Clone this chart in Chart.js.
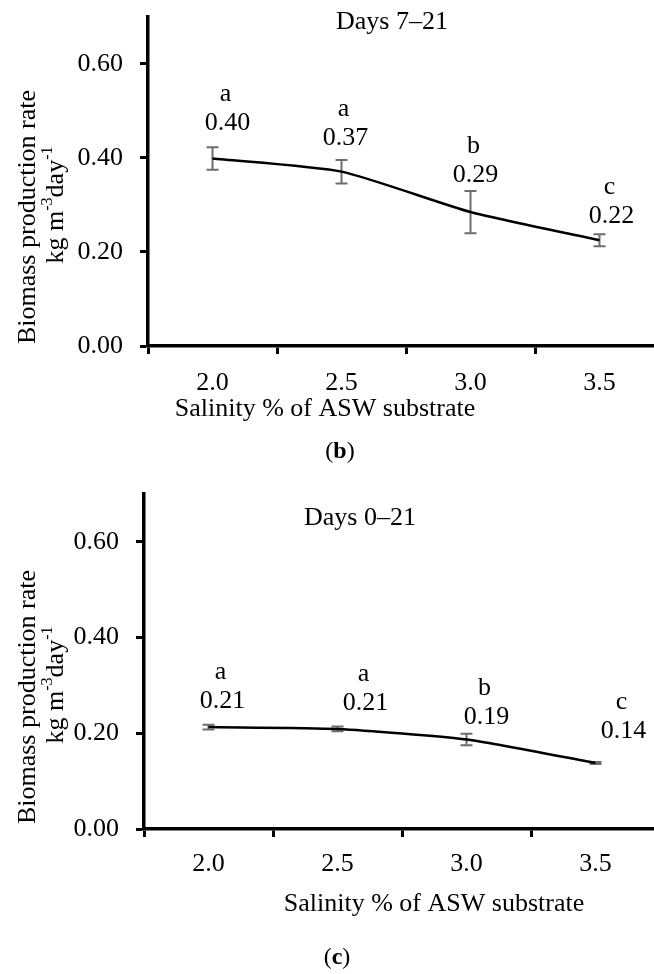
<!DOCTYPE html>
<html>
<head>
<meta charset="utf-8">
<script src="https://cdn.jsdelivr.net/npm/chart.js@4.4.1/dist/chart.umd.min.js"></script>
<style>
  html, body { margin: 0; padding: 0; background: #fff; overflow: hidden; width: 654px; height: 974px; }
  .box { position: absolute; left: 0; width: 680px; }
</style>
</head>
<body>
<div class="box" style="top:0;height:470px"><canvas id="chartB"></canvas></div>
<div class="box" style="top:480px;height:494px"><canvas id="chartC"></canvas></div>
<script>
// salinity levels (x axis)
const salinity = ['2.0', '2.5', '3.0', '3.5'];
const yTicks = [0, 0.2, 0.4, 0.6];

// (b) days 7-21
const rateB    = [0.399, 0.371, 0.285, 0.225];
const errB     = [0.024, 0.025, 0.045, 0.013];
const lettersB = ['a', 'a', 'b', 'c'];
const labelsB  = ['0.40', '0.37', '0.29', '0.22'];

// (c) days 0-21
const rateC    = [0.213, 0.209, 0.187, 0.138];
const errC     = [0.005, 0.005, 0.012, 0.002];
const lettersC = ['a', 'a', 'b', 'c'];
const labelsC  = ['0.21', '0.21', '0.19', '0.14'];

const FONT = '"Liberation Serif", "Times New Roman", serif';

function makeChart(id, o) {
    const annot = {
        id: 'annot_' + id,
        beforeDatasetsDraw(chart) {
            const ctx = chart.ctx, x = chart.scales.x, y = chart.scales.y;
            ctx.save();
            ctx.strokeStyle = '#6e6e6e';
            ctx.lineWidth = 2;
            o.values.forEach((v, i) => {
                const px = x.getPixelForValue(i);
                const top = y.getPixelForValue(v + o.err[i]);
                const bot = y.getPixelForValue(v - o.err[i]);
                ctx.beginPath();
                ctx.moveTo(px, top); ctx.lineTo(px, bot);
                ctx.moveTo(px - 6, top); ctx.lineTo(px + 6, top);
                ctx.moveTo(px - 6, bot); ctx.lineTo(px + 6, bot);
                ctx.stroke();
            });
            ctx.restore();
        },
        afterDraw(chart) {
            const ctx = chart.ctx, x = chart.scales.x, y = chart.scales.y;
            ctx.save();
            ctx.fillStyle = '#000';
            ctx.textAlign = 'center';
            ctx.textBaseline = 'middle';
            ctx.font = '26px ' + FONT;

            // value labels and significance letters
            o.values.forEach((v, i) => {
                const px = x.getPixelForValue(i) + o.labelDx[i];
                const top = y.getPixelForValue(v + o.err[i]);
                const ly = top - o.labelGap[i];
                ctx.fillText(o.labels[i], px, ly);
                ctx.fillText(o.letters[i], px - 2, ly - 29);
            });

            // panel title
            ctx.fillText(o.title, o.titlePos[0], o.titlePos[1]);
            // x axis title
            ctx.fillText('Salinity % of ASW substrate', o.xTitlePos[0], o.xTitlePos[1]);

            // panel letter "(b)" with bold letter
            ctx.font = '24px ' + FONT;
            const wOpen = ctx.measureText('(').width;
            ctx.font = 'bold 24px ' + FONT;
            const wLet = ctx.measureText(o.panel).width;
            const total = wOpen * 2 + wLet;
            let sx = o.panelPos[0] - total / 2;
            ctx.textAlign = 'left';
            ctx.font = '24px ' + FONT;
            ctx.fillText('(', sx, o.panelPos[1]);
            ctx.font = 'bold 24px ' + FONT;
            ctx.fillText(o.panel, sx + wOpen, o.panelPos[1]);
            ctx.font = '24px ' + FONT;
            ctx.fillText(')', sx + wOpen + wLet, o.panelPos[1]);

            // y axis title, two rotated lines
            ctx.save();
            ctx.translate(28, o.yTitleY);
            ctx.rotate(-Math.PI / 2);
            ctx.textAlign = 'center';
            ctx.font = '26px ' + FONT;
            ctx.fillText('Biomass production rate', 0, 0);
            ctx.restore();

            ctx.save();
            ctx.translate(56, o.yTitleY - 12);
            ctx.rotate(-Math.PI / 2);
            const parts = [['kg m', false], ['-3', true], ['day', false], ['-1', true]];
            let w = 0;
            parts.forEach(p => {
                ctx.font = (p[1] ? '16px ' : '26px ') + FONT;
                w += ctx.measureText(p[0]).width;
            });
            let cx = -w / 2;
            ctx.textAlign = 'left';
            parts.forEach(p => {
                ctx.font = (p[1] ? '16px ' : '26px ') + FONT;
                ctx.fillText(p[0], cx, p[1] ? -8 : 0);
                cx += ctx.measureText(p[0]).width;
            });
            ctx.restore();

            ctx.restore();
        }
    };

    return new Chart(document.getElementById(id), {
        type: 'line',
        data: {
            labels: salinity,
            datasets: [{
                data: o.values,
                borderColor: '#000',
                borderWidth: 2.5,
                pointRadius: 0,
                tension: 0.2,
                fill: false
            }]
        },
        options: {
            responsive: true,
            maintainAspectRatio: false,
            animation: false,
            layout: { padding: { top: o.top, right: o.right, left: 0, bottom: 0 } },
            plugins: { legend: { display: false }, tooltip: { enabled: false } },
            scales: {
                x: {
                    offset: true,
                    grid: { offset: true, drawOnChartArea: false, tickLength: 8, tickWidth: 3, color: '#000' },
                    border: { color: '#000', width: 3.5 },
                    ticks: { color: '#000', font: { family: FONT, size: 26 }, padding: o.xTickPad, maxRotation: 0 },
                    afterFit: s => { s.height = o.xAxisH; s.paddingLeft = 0; s.paddingRight = 0; }
                },
                y: {
                    min: 0,
                    max: 0.7,
                    afterBuildTicks: s => { s.ticks = yTicks.map(v => ({ value: v })); },
                    grid: { drawOnChartArea: false, tickLength: 8, tickWidth: 3, color: '#000' },
                    border: { color: '#000', width: 3.5 },
                    ticks: { color: '#000', font: { family: FONT, size: 26 }, padding: 17, callback: v => Number(v).toFixed(2) },
                    afterFit: s => { s.width = o.left; s.paddingTop = 0; s.paddingBottom = 0; }
                }
            }
        },
        plugins: [annot]
    });
}

makeChart('chartB', {
    values: rateB, err: errB, letters: lettersB, labels: labelsB,
    labelDx: [15, 4, 5, 12], labelGap: [24, 22, 16, 18],
    title: 'Days 7\u201321', titlePos: [392, 22],
    xTitlePos: [325, 409], panel: 'b', panelPos: [340, 452],
    yTitleY: 217, top: 17, right: 16, left: 148, xAxisH: 124, xTickPad: 14
});

makeChart('chartC', {
    values: rateC, err: errC, letters: lettersC, labels: labelsC,
    labelDx: [14, 28, 20, 28], labelGap: [23, 23, 17, 31],
    title: 'Days 0\u201321', titlePos: [360, 38],
    xTitlePos: [434, 424], panel: 'c', panelPos: [337, 478],
    yTitleY: 217, top: 14, right: 20, left: 144, xAxisH: 145, xTickPad: 12
});
</script>
</body>
</html>
